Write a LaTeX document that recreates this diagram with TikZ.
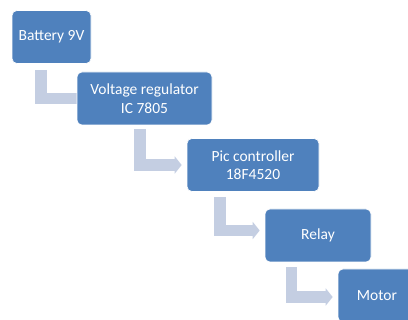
\documentclass[tikz,border=0pt]{standalone}
\usepackage{fontspec}
\setmainfont{Carlito}
\usetikzlibrary{positioning,arrows.meta,backgrounds}

\definecolor{boxblue}{HTML}{4F81BD}
\definecolor{bendgray}{RGB}{196,206,226}

\tikzset{
  stage/.style={draw=white, line width=0.6pt, fill=boxblue, rounded corners=5pt,
    text=white, align=center, minimum height=53pt, inner sep=2pt,
    font=\fontsize{15.5}{18.5}\selectfont},
  bentarrow/.style={draw=bendgray, line width=11.5pt, line join=miter, line cap=butt,
    -{Triangle[length=7pt,width=17pt]}, shorten >=5pt},
}

\begin{document}
\begin{tikzpicture}[x=1pt,y=-1pt]
\useasboundingbox (0,0) rectangle (408,320);
\clip (0,0) rectangle (408,320);

\node[stage, minimum width=79pt] (bat) at (51.5, 37) {Battery 9V};
\node[stage, minimum width=135pt] (reg) at (144.5, 98.5) {Voltage regulator\\IC 7805};
\node[stage, minimum width=132pt] (pic) at (253, 165) {Pic controller\\18F4520};
\node[stage, minimum width=106pt] (rel) at (318, 235.5) {Relay};
\node[stage, minimum width=78pt] (mot) at (377, 295.5) {Motor};

% bent connectors behind the boxes
\begin{scope}[on background layer]
\draw[bentarrow, shorten >=-8pt] ([xshift=29.5pt,yshift=-6pt]bat.south west) |- (reg.west);
\draw[bentarrow] ([xshift=63.5pt,yshift=-4pt]reg.south west) |- (pic.west);
\draw[bentarrow] ([xshift=33.5pt,yshift=-5pt]pic.south west) |- ([yshift=5pt]rel.west);
\draw[bentarrow] ([xshift=27pt,yshift=-5pt]rel.south west) |- ([yshift=-1.5pt]mot.west);
\end{scope}
\end{tikzpicture}
\end{document}
